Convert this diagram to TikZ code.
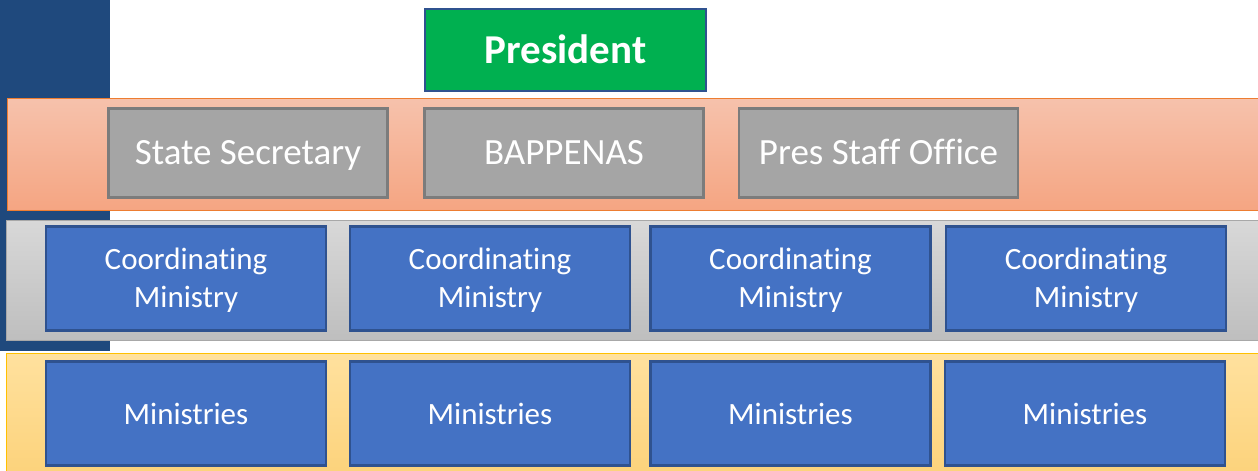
\documentclass[tikz,border=0pt]{standalone}
\usepackage{fontspec}
\setmainfont{Carlito}[Ligatures={NoCommon}]
\definecolor{barblue}{RGB}{31,73,125}
\definecolor{pgreen}{RGB}{0,176,80}
\definecolor{boxborder}{RGB}{47,82,143}
\definecolor{boxblue}{RGB}{68,114,196}
\definecolor{gbox}{RGB}{165,165,165}
\definecolor{gboxborder}{RGB}{124,124,124}
\definecolor{orTop}{RGB}{246,194,172}
\definecolor{orBot}{RGB}{245,165,130}
\definecolor{orBorder}{RGB}{237,125,49}
\definecolor{grTop}{RGB}{216,216,216}
\definecolor{grBot}{RGB}{190,190,190}
\definecolor{grBorder}{RGB}{168,168,168}
\definecolor{yeTop}{RGB}{255,225,158}
\definecolor{yeBot}{RGB}{252,210,122}
\definecolor{yeBorder}{RGB}{255,192,0}
\tikzset{
  band/.style={rectangle, inner sep=0pt, line width=1.2pt},
  staffbox/.style={rectangle, inner sep=0pt, fill=gbox, draw=gboxborder, line width=2.2pt,
    minimum width=279pt, minimum height=89pt, text=white, text height=23pt, text depth=0pt,
    font=\fontsize{37}{44}\selectfont},
  minbox/.style={rectangle, inner sep=0pt, fill=boxblue, draw=boxborder, line width=2.2pt,
    minimum width=280pt, minimum height=104pt, text=white, align=center,
    font=\fontsize{31}{38}\selectfont},
  coordbox/.style={minbox, text height=58pt, text depth=0pt},
  ministrybox/.style={minbox, text height=22pt, text depth=0pt},
}
\newcommand{\coordtext}{Coordina\kern0pt ting\\Ministry}
\begin{document}
\begin{tikzpicture}[x=1pt,y=-1pt]
\useasboundingbox (0,0) rectangle (1258,471);
\fill[white] (0,0) rectangle (1258,471);
% left bar
\fill[barblue] (0,0) rectangle (110,351);
% bands
\node[band, anchor=north west, minimum width=1260pt, minimum height=112pt,
  top color=orTop, bottom color=orBot, draw=orBorder] (orange) at (7,97.5) {};
\node[band, anchor=north west, minimum width=1260pt, minimum height=120pt,
  top color=grTop, bottom color=grBot, draw=grBorder] (grey) at (6,220) {};
\node[band, anchor=north west, minimum width=1260pt, minimum height=125pt,
  top color=yeTop, bottom color=yeBot, draw=yeBorder] (yellow) at (6,353) {};
% president
\node[rectangle, inner sep=0pt, fill=pgreen, draw=boxborder, line width=2.2pt,
  minimum width=281pt, minimum height=82pt, text=white, text height=26pt, text depth=0pt,
  font=\fontsize{41}{48}\selectfont\bfseries] (pres) at (565.5,50) {President};
% staff row
\node[staffbox] (ss) at (248,153) {State Secretary};
\node[staffbox] (bap) at (564,153) {BAPPENAS};
\node[staffbox] (pso) at (878.5,153) {Pres Staff Office};
% coordinating row
\node[coordbox] (c1) at (186,278.5) {\coordtext};
\node[coordbox] (c2) at (490,278.5) {\coordtext};
\node[coordbox] (c3) at (790.5,278.5) {\coordtext};
\node[coordbox] (c4) at (1086,278.5) {\coordtext};
% ministries row
\node[ministrybox] (m1) at (186,413.5) {Ministries};
\node[ministrybox] (m2) at (490,413.5) {Ministries};
\node[ministrybox] (m3) at (790.5,413.5) {Ministries};
\node[ministrybox] (m4) at (1085,413.5) {Ministries};
\end{tikzpicture}
\end{document}
